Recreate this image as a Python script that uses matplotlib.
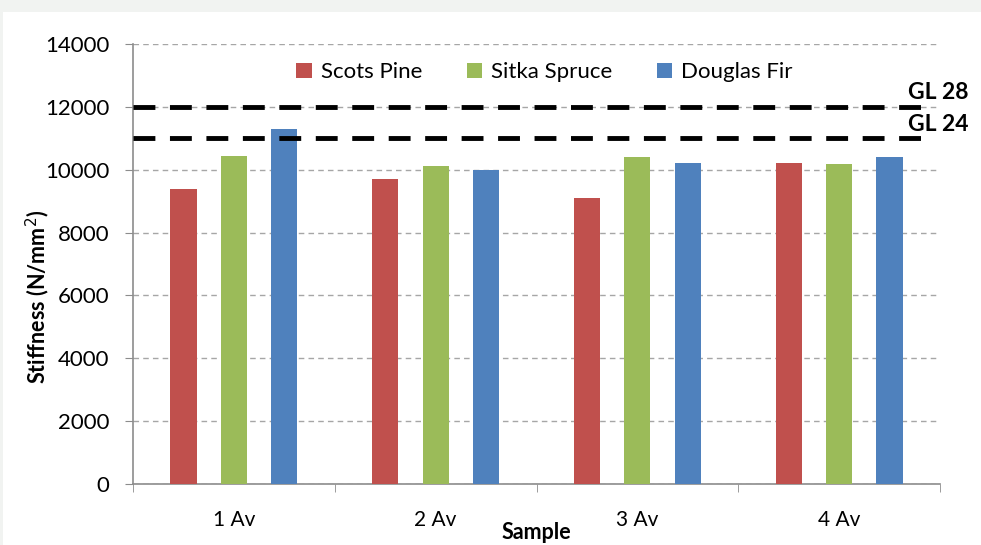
import numpy as np
import matplotlib.pyplot as plt
from matplotlib.patches import Rectangle

# mean stiffness per sample group, N/mm2
samples = ["1 Av", "2 Av", "3 Av", "4 Av"]
scots_pine = [9400, 9700, 9100, 10200]
sitka_spruce = [10450, 10120, 10400, 10170]
douglas_fir = [11300, 10000, 10220, 10420]

# strength class reference values
grades = ["GL 28", "GL 24"]
grade_values = [12000, 11000]

series = [
    ("Scots Pine", scots_pine, "#c0504d"),
    ("Sitka Spruce", sitka_spruce, "#9bbb59"),
    ("Douglas Fir", douglas_fir, "#4f81bd"),
]

plt.rcParams["font.family"] = ["Lato", "DejaVu Sans"]

fig = plt.figure(figsize=(9.81, 5.45), dpi=100, facecolor="#f1f3f1")
fig.patches.append(Rectangle((3 / 981, 0), 1, 1 - 12 / 545, transform=fig.transFigure,
                             facecolor="white", edgecolor="none", zorder=-10))
ax = fig.add_axes([133 / 981, 1 - 484 / 545, 807 / 981, 440 / 545])
ax.set_facecolor("none")

x = np.arange(len(samples))
width = 0.13
offset = 0.25
for i, (name, vals, col) in enumerate(series):
    ax.bar(x + (i - 1) * offset, vals, width, color=col, label=name, zorder=3)

ax.set_xlim(-0.5, len(samples) - 0.5)
ax.set_ylim(0, 14000)
ax.set_yticks(range(0, 14001, 2000))
ax.yaxis.grid(True, color="#a6a6a6", linestyle=(0, (4, 3)), linewidth=1.0, zorder=0)

for g, v in zip(grades, grade_values):
    ax.plot([-0.5, 3.47], [v, v], color="black", linewidth=3.5,
            linestyle=(0, (4.5, 3)), zorder=4, clip_on=False)
    ax.text(3.49, v + 120, g, fontsize=16.5, fontweight="bold", ha="center",
            va="bottom", zorder=5, clip_on=False)

ax.set_xticks(x)
ax.set_xticklabels(samples, fontsize=15)
ax.set_xticks(np.arange(-0.5, len(samples)), minor=True)
ax.tick_params(axis="x", which="major", length=0, pad=19)
ax.tick_params(axis="x", which="minor", length=6, color="#8c8c8c", direction="out")
ax.tick_params(axis="y", length=6, color="#8c8c8c", labelsize=16, pad=11)

for s in ["top", "right"]:
    ax.spines[s].set_visible(False)
for s in ["left", "bottom"]:
    ax.spines[s].set_color("#8c8c8c")
    ax.spines[s].set_linewidth(1.2)

ax.set_ylabel("Stiffness (N/mm$^2$)", fontsize=15.5, fontweight="bold")
ax.yaxis.set_label_coords(-0.1, 0.425)
ax.set_xlabel("Sample", fontsize=15.5, fontweight="bold", labelpad=-6)

ax.legend(loc="center", bbox_to_anchor=(0.51, 0.936), ncol=3, frameon=False,
          fontsize=16, handlelength=0.7, handleheight=0.7, handletextpad=0.4,
          columnspacing=2.0)

fig.savefig("out.png", dpi=100, facecolor=fig.get_facecolor())
